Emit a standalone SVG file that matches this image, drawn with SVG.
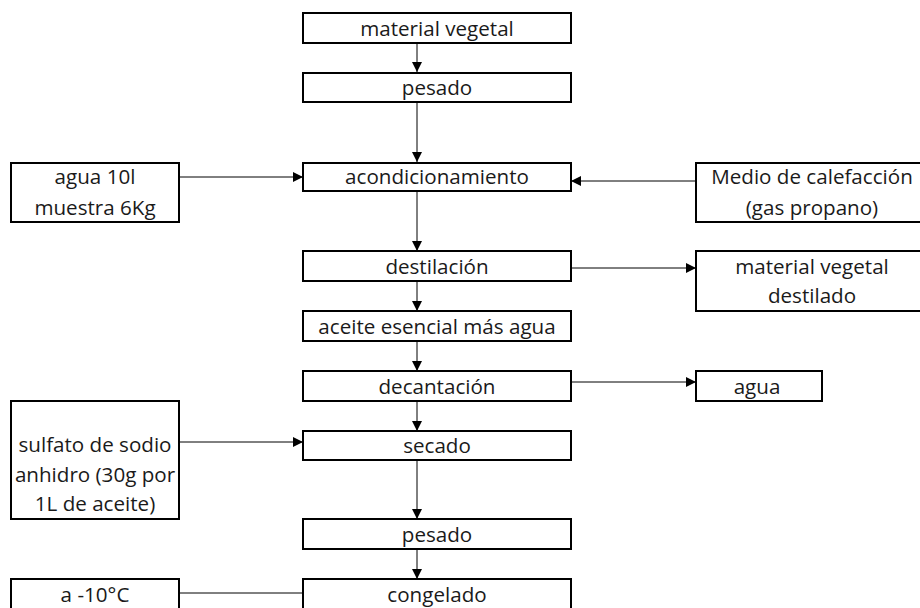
<svg xmlns="http://www.w3.org/2000/svg" width="920" height="608" viewBox="0 0 920 608">
<style>
.box{fill:#fff;stroke:#000;stroke-width:2}
.t{font-family:"Open Sans","Liberation Sans",sans-serif;font-size:20.6px;fill:#1a1a1a;text-anchor:middle}
.c{stroke:#000;stroke-width:1;fill:none}
</style>
<defs>
<marker id="ah" markerUnits="userSpaceOnUse" markerWidth="11" markerHeight="11" refX="10" refY="5" orient="auto">
<path d="M0,0 L10,5 L0,10 z" fill="#000"/>
</marker>
</defs>
<rect width="920" height="608" fill="#fff"/>
<g id="connectors">
<line class="c" x1="417" y1="43" x2="417" y2="72" marker-end="url(#ah)"/>
<line class="c" x1="417" y1="102" x2="417" y2="162" marker-end="url(#ah)"/>
<line class="c" x1="179" y1="177" x2="303" y2="177" marker-end="url(#ah)"/>
<line class="c" x1="696" y1="181" x2="571" y2="181" marker-end="url(#ah)"/>
<line class="c" x1="417" y1="191" x2="417" y2="251" marker-end="url(#ah)"/>
<line class="c" x1="571" y1="268" x2="696" y2="268" marker-end="url(#ah)"/>
<line class="c" x1="417" y1="281" x2="417" y2="311" marker-end="url(#ah)"/>
<line class="c" x1="417" y1="341" x2="417" y2="371" marker-end="url(#ah)"/>
<line class="c" x1="571" y1="382" x2="696" y2="382" marker-end="url(#ah)"/>
<line class="c" x1="417" y1="401" x2="417" y2="431" marker-end="url(#ah)"/>
<line class="c" x1="179" y1="442" x2="303" y2="442" marker-end="url(#ah)"/>
<line class="c" x1="417" y1="460" x2="417" y2="519" marker-end="url(#ah)"/>
<line class="c" x1="417" y1="549" x2="417" y2="579" marker-end="url(#ah)"/>
<line class="c" x1="179" y1="593" x2="303" y2="593"/>
</g>
<g id="n_material"><rect class="box" x="303" y="13" width="268" height="30"/><text class="t" x="437" y="36">material vegetal</text></g>
<g id="n_pesado1"><rect class="box" x="303" y="73" width="268" height="29"/><text class="t" x="437" y="95">pesado</text></g>
<g id="n_acond"><rect class="box" x="303" y="163" width="268" height="28"/><text class="t" x="437" y="184">acondicionamiento</text></g>
<g id="n_agua10"><rect class="box" x="11" y="163" width="168" height="59"/><text class="t" x="95" y="184">agua 10l</text><text class="t" x="95" y="215">muestra 6Kg</text></g>
<g id="n_medio"><rect class="box" x="696" y="163" width="232" height="59"/><text class="t" x="812" y="184">Medio de calefacción</text><text class="t" x="812" y="215">(gas propano)</text></g>
<g id="n_destil"><rect class="box" x="303" y="251" width="268" height="30"/><text class="t" x="437" y="274">destilación</text></g>
<g id="n_mvd"><rect class="box" x="696" y="251" width="232" height="60"/><text class="t" x="812" y="274">material vegetal</text><text class="t" x="812" y="303">destilado</text></g>
<g id="n_aceite"><rect class="box" x="303" y="311" width="268" height="30"/><text class="t" x="437" y="334">aceite esencial más agua</text></g>
<g id="n_decant"><rect class="box" x="303" y="371" width="268" height="30"/><text class="t" x="437" y="394">decantación</text></g>
<g id="n_agua"><rect class="box" x="696" y="371" width="126" height="30"/><text class="t" x="757" y="394">agua</text></g>
<g id="n_sulfato"><rect class="box" x="11" y="401" width="168" height="118"/><text class="t" x="95" y="452">sulfato de sodio</text><text class="t" x="95" y="482">anhidro (30g por</text><text class="t" x="95" y="511">1L de aceite)</text></g>
<g id="n_secado"><rect class="box" x="303" y="431" width="268" height="29"/><text class="t" x="437" y="453">secado</text></g>
<g id="n_pesado2"><rect class="box" x="303" y="519" width="268" height="30"/><text class="t" x="437" y="542">pesado</text></g>
<g id="n_congelado"><rect class="box" x="303" y="579" width="268" height="40"/><text class="t" x="437" y="602">congelado</text></g>
<g id="n_temp"><rect class="box" x="11" y="579" width="168" height="40"/><text class="t" x="95" y="602">a -10°C</text></g>
</svg>
